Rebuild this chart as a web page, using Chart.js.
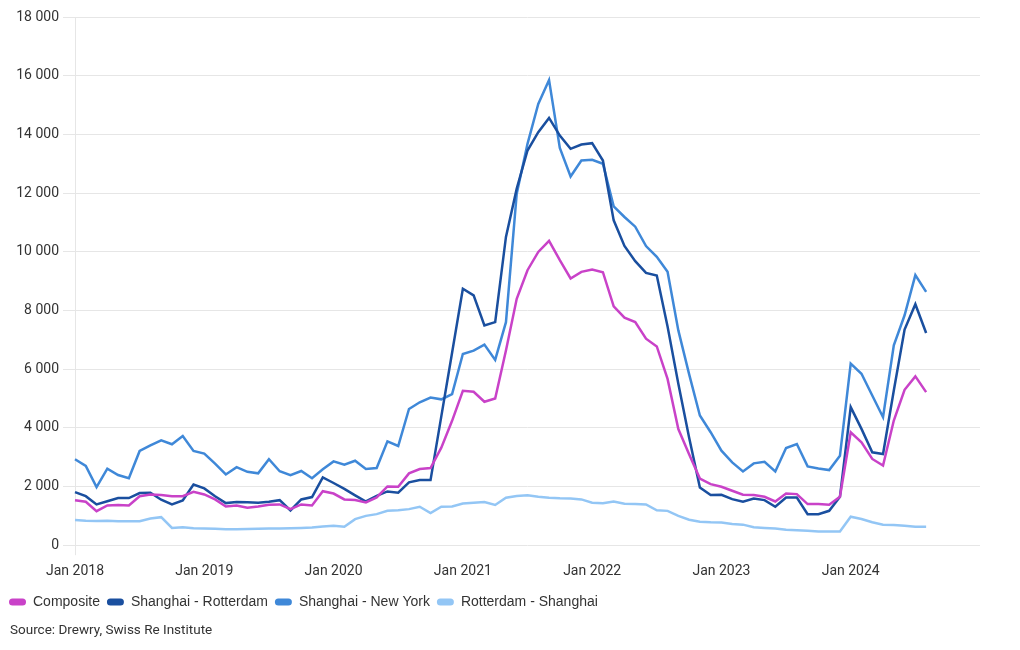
<!DOCTYPE html>
<html>
<head>
<meta charset="utf-8">
<title>Container freight rates</title>
<script src="https://cdn.jsdelivr.net/npm/chart.js@4.4.1/dist/chart.umd.min.js"></script>
<style>
  html, body { margin: 0; padding: 0; background: #fff; }
  #wrap { width: 1020px; height: 650px; position: relative; }
  #source {
    position: absolute; left: 10px; top: 621px;
    font: 13.5px/17px Roboto, "Liberation Sans", sans-serif; color: #333;
  }
</style>
</head>
<body>
<div id="wrap">
  <canvas id="chart" width="1020" height="650"></canvas>
  <div id="source">Source: Drewry, Swiss Re Institute</div>
</div>
<script>
// categories: monthly, Jan 2018 .. Jan 2025 (axis runs to Jan 2025, data stops Aug 2024)
const years = [2018, 2019, 2020, 2021, 2022, 2023, 2024, 2025];
const monthNames = ['Jan','Feb','Mar','Apr','May','Jun','Jul','Aug','Sep','Oct','Nov','Dec'];
const labels = [];
years.forEach(y => monthNames.forEach((m, i) => {
  if (y < 2025 || i === 0) labels.push(m + ' ' + y);
}));

// series (USD per 40ft container), Jan 2018 .. Aug 2024
const composite = [
  1535, 1480, 1160, 1355, 1370, 1355, 1670, 1730, 1710, 1670, 1670, 1820,
  1730, 1560, 1320, 1355, 1275, 1320, 1375, 1390, 1230, 1390, 1355, 1840,
  1760, 1560, 1540, 1457, 1627, 2003, 1990, 2447, 2595, 2630, 3326, 4238,
  5264, 5230, 4888, 5002, 6632, 8399, 9372, 9995, 10369, 9712, 9089, 9315,
  9395, 9303, 8142, 7754, 7606, 7036, 6774, 5668, 3958, 3103, 2270, 2080,
  1991, 1855, 1718, 1707, 1650, 1491, 1764, 1741, 1400, 1400, 1377, 1650,
  3850, 3508, 2939, 2711, 4248, 5296, 5752, 5217
];
const shanghaiRotterdam = [
  1810, 1670, 1390, 1500, 1605, 1605, 1775, 1790, 1550, 1390, 1525, 2070,
  1935, 1670, 1435, 1470, 1460, 1450, 1480, 1535, 1185, 1560, 1640, 2310,
  2120, 1920, 1700, 1490, 1684, 1832, 1787, 2140, 2219, 2219, 4390, 6560,
  8741, 8513, 7487, 7601, 10505, 12150, 13450, 14074, 14560, 13960, 13507, 13655,
  13700, 13110, 11070, 10200, 9680, 9280, 9190, 7450, 5500, 3670, 1965, 1710,
  1715, 1570, 1479, 1593, 1536, 1309, 1627, 1627, 1058, 1058, 1172, 1650,
  4704, 3964, 3166, 3109, 5270, 7347, 8212, 7233
];
const shanghaiNewYork = [
  2930, 2700, 1980, 2610, 2390, 2280, 3210, 3400, 3575, 3440, 3720, 3210,
  3120, 2780, 2410, 2660, 2500, 2450, 2930, 2520, 2390, 2530, 2280, 2590,
  2856, 2743, 2879, 2595, 2630, 3540, 3380, 4643, 4870, 5030, 4970, 5150,
  6518, 6632, 6837, 6313, 7601, 11978, 13677, 15037, 15853, 13540, 12567, 13110,
  13133, 12997, 11550, 11185, 10855, 10194, 9829, 9316, 7321, 5830, 4420, 3850,
  3220, 2822, 2515, 2788, 2845, 2515, 3312, 3448, 2686, 2617, 2560, 3050,
  6185, 5843, 5103, 4362, 6811, 7836, 9203, 8634
];
const rotterdamShanghai = [
  855, 830, 825, 830, 820, 815, 815, 910, 955, 590, 610, 580,
  570, 560, 545, 545, 550, 560, 565, 570, 580, 590, 600, 635,
  660, 626, 888, 1000, 1058, 1172, 1195, 1229, 1309, 1092, 1309, 1320,
  1422, 1445, 1470, 1370, 1620, 1680, 1700, 1650, 1620, 1600, 1590, 1560,
  1450, 1430, 1490, 1410, 1400, 1390, 1190, 1170, 1000, 870, 800, 780,
  770, 720, 700, 610, 590, 570, 530, 510, 490, 470, 470, 470,
  970, 890, 780, 700, 690, 660, 630, 630
];

const yTicks = [0, 2000, 4000, 6000, 8000, 10000, 12000, 14000, 16000, 18000];

const gridGrey = '#e6e6e6';
const textGrey = '#333333';

function fmt(v) {
  return String(v).replace(/\B(?=(\d{3})+(?!\d))/g, ' ');
}

function line(label, data, color) {
  return {
    label: label,
    data: data,
    borderColor: color,
    backgroundColor: color,
    borderWidth: 2.5,
    pointRadius: 0,
    pointHoverRadius: 0,
    tension: 0,
    fill: false
  };
}

const chart = new Chart(document.getElementById('chart').getContext('2d'), {
  type: 'line',
  data: {
    labels: labels,
    datasets: [
      line('Composite', composite, '#c942c8'),
      line('Shanghai - Rotterdam', shanghaiRotterdam, '#1a4f9f'),
      line('Shanghai - New York', shanghaiNewYork, '#3f88d8'),
      line('Rotterdam - Shanghai', rotterdamShanghai, '#93c6f5')
    ]
  },
  options: {
    responsive: false,
    animation: false,
    devicePixelRatio: 1,
    layout: { padding: { left: 2, right: 40, top: 17, bottom: 31 } },
    font: { family: 'Roboto, "Liberation Sans", sans-serif' },
    scales: {
      x: {
        type: 'category',
        offset: false,
        border: { display: false },
        grid: {
          color: ctx => (ctx.index % 12 === 0 && ctx.index < 84) ? gridGrey : 'rgba(0,0,0,0)',
          tickLength: 10
        },
        ticks: {
          autoSkip: false,
          maxRotation: 0,
          color: textGrey,
          font: { size: 14 },
          padding: 8,
          callback: function(val, i) {
            return (i % 12 === 0 && i < 84) ? this.getLabelForValue(val) : null;
          }
        }
      },
      y: {
        min: 0,
        max: 18000,
        border: { display: false },
        grid: { color: gridGrey, tickLength: 12 },
        afterBuildTicks: axis => { axis.ticks = yTicks.map(v => ({ value: v })); },
        afterFit: axis => { axis.width = 73; },
        ticks: {
          color: textGrey,
          font: { size: 14 },
          padding: 4,
          callback: v => fmt(v)
        }
      }
    },
    plugins: {
      tooltip: { enabled: false },
      legend: {
        position: 'bottom',
        align: 'start',
        labels: {
          boxWidth: 17,
          boxHeight: 7,
          useBorderRadius: true,
          borderRadius: 3.5,
          padding: 7,
          color: textGrey,
          font: { size: 14 },
          generateLabels: c => Chart.defaults.plugins.legend.labels.generateLabels(c)
            .map(l => Object.assign(l, { lineWidth: 0 }))
        }
      }
    }
  }
});
</script>
</body>
</html>
